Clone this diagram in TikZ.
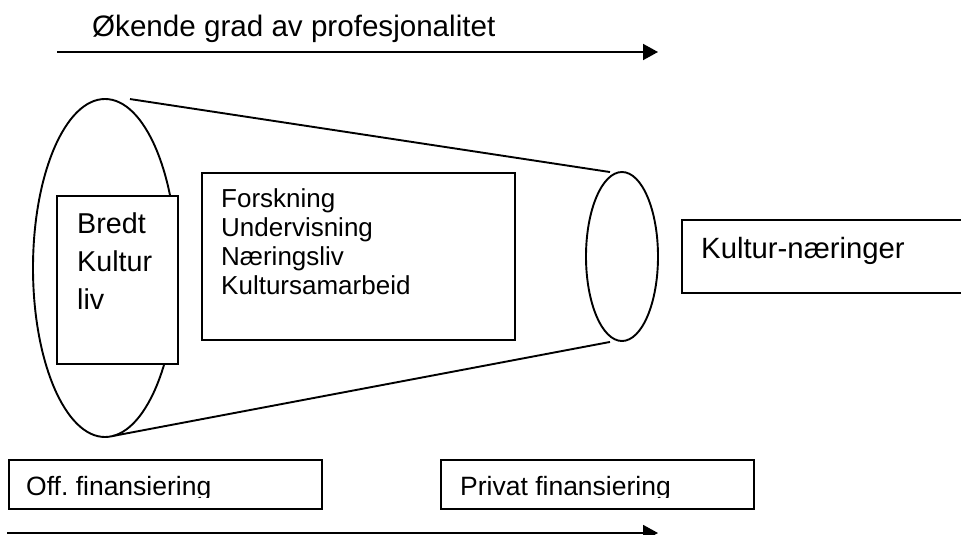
\documentclass[tikz,border=0pt]{standalone}
\usepackage{fontspec}
\setmainfont{Liberation Sans}
\usetikzlibrary{shapes.geometric, arrows.meta}
\frenchspacing

\begin{document}
\begin{tikzpicture}[x=1pt, y=-1pt]

        \tikzstyle{box} = [draw, rectangle, line width=1.9pt, fill=white, inner sep=0];
        \tikzstyle{oval} = [draw, ellipse, line width=1.9pt, inner sep=0];
        \tikzstyle{boxtext} = [anchor=north west, align=left, inner sep=0];
        \tikzstyle{arrow} = [line width=1.9pt, -{Triangle[length=15pt, width=16pt]}];

        \useasboundingbox (0,0) rectangle (961,535);

        % tittel og pil oppe
        \node[anchor=base west, inner sep=0, font=\fontsize{29.6}{34}\selectfont] (T) at (92,37) {Økende grad av profesjonalitet};
        \coordinate (A1) at (57,52);
        \coordinate (A2) at (658,52);
        \draw[arrow] (A1) -- (A2);

        % trakten
        \node[oval, minimum width=144pt, minimum height=338pt] (L) at (105,268) {};
        \node[oval, minimum width=72pt, minimum height=169pt] (R) at (622,256.5) {};

        \draw[line width=1.9pt] ([xshift=25pt,yshift=-1pt]L.north) -- ([xshift=-12pt,yshift=-1pt]R.north);
        \draw[line width=1.9pt] ([xshift=8pt,yshift=2pt]L.south) -- ([xshift=-12pt]R.south);

        \node[box, minimum width=121pt, minimum height=168pt] (BK) at (117.5,280) {};
        \node[boxtext, font=\fontsize{28.7}{37.7}\selectfont] (BKT) at (77,213) {Bredt\\Kultur\\liv};

        \node[box, minimum width=313pt, minimum height=167pt] (M) at (358.5,256.5) {};
        \node[boxtext, font=\fontsize{26}{29}\selectfont] (MT) at (221,188) {Forskning\\Undervisning\\Næringsliv\\Kultursamarbeid};

        \node[box, minimum width=293pt, minimum height=73pt] (K) at (828.5,256.5) {};
        \node[anchor=base west, inner sep=0, font=\fontsize{29.3}{34}\selectfont] (KT) at (701,258) {Kultur-næringer};

        % finansiering
        \node[box, minimum width=313pt, minimum height=49pt] (OF) at (165.5,484.5) {};
        \node[box, minimum width=313pt, minimum height=49pt] (PF) at (597.5,484.5) {};
        \begin{scope}
            \clip (OF.north west) rectangle ([yshift=12pt]OF.south east);
            \node[anchor=base west, inner sep=0, font=\fontsize{26.5}{30}\selectfont] (OFT) at (26,495) {Off. finansiering};
        \end{scope}
        \begin{scope}
            \clip (PF.north west) rectangle ([yshift=12pt]PF.south east);
            \node[anchor=base west, inner sep=0, font=\fontsize{26.5}{30}\selectfont] (PFT) at (460,495) {Privat finansiering};
        \end{scope}

        \coordinate (B1) at (7,533);
        \coordinate (B2) at (658,533);
        \draw[arrow] (B1) -- (B2);

\end{tikzpicture}
\end{document}
